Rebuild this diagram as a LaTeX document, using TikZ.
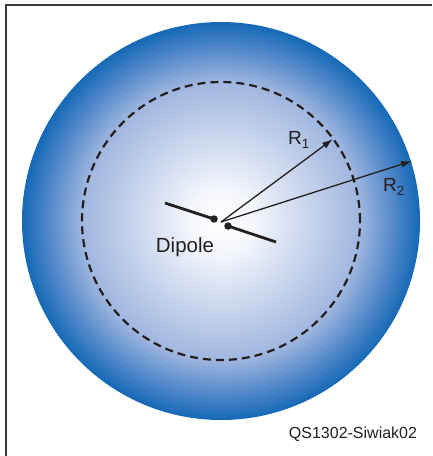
\documentclass[tikz,border=0pt]{standalone}
\usepackage{xcolor}
\usepackage{fontspec}
\setmainfont{Liberation Sans}
\usetikzlibrary{arrows.meta}
\definecolor{body}{HTML}{231F20}
\definecolor{frame}{HTML}{3A3A3A}
\definecolor{sphereblue}{HTML}{176AB7}
\definecolor{sphereouter}{HTML}{4F86C9}
\definecolor{spheremid}{HTML}{A0B7DF}
\definecolor{spherepale}{HTML}{F4F6FC}
\pgfdeclareradialshading{field}{\pgfpoint{0bp}{0bp}}{color(0bp)=(white); color(4bp)=(spherepale); color(17.5bp)=(spheremid); color(22bp)=(sphereouter); color(25bp)=(sphereblue); color(50bp)=(sphereblue)}

\begin{document}
\begin{tikzpicture}[x=1pt, y=-1pt,
    arm/.style={line width=2.8pt, body},
    feed/.style={circle, fill=body, inner sep=0pt, minimum size=7.5pt},
    radius/.style={line width=1.3pt, body, -{Latex[length=11pt, width=7pt]}},
    lbl/.style={text=body, inner sep=0pt}]
  \useasboundingbox (0,0) rectangle (432,456);
  \draw[line width=2pt, frame] (6,456) -- (6,5) -- (432,5);

  % field regions
  \fill[sphereblue] (221,221) circle (199pt);
  \shade[shading=field] (221,221) circle (198pt);
  \draw[line width=2.2pt, body, dash pattern=on 8pt off 5pt] (221,221) circle (139pt);

  % dipole
  \coordinate (armL) at (165,203);
  \coordinate (armR) at (276,242);
  \node[feed] (feedL) at (214,219) {};
  \node[feed] (feedR) at (228,226) {};
  \draw[arm] (armL) -- (feedL.center);
  \draw[arm] (feedR.center) -- (armR);
  \node[lbl, font=\fontsize{20.5}{24}\selectfont] (dipole) at (185,247) {Dipole};

  % radii
  \coordinate (src) at (221,222);
  \coordinate (r1end) at (333,139);
  \coordinate (r2end) at (412,161);
  \draw[radius] (src) -- (r1end);
  \draw[radius] (src) -- (r2end);
  \node[lbl, font=\fontsize{19}{22}\selectfont] (R1) at (299,140) {R\textsubscript{1}};
  \node[lbl, font=\fontsize{19}{22}\selectfont] (R2) at (394,187) {R\textsubscript{2}};

  \node[lbl, font=\fontsize{16}{19}\selectfont] (tag) at (353,434) {QS1302-Siwiak02};
\end{tikzpicture}
\end{document}
